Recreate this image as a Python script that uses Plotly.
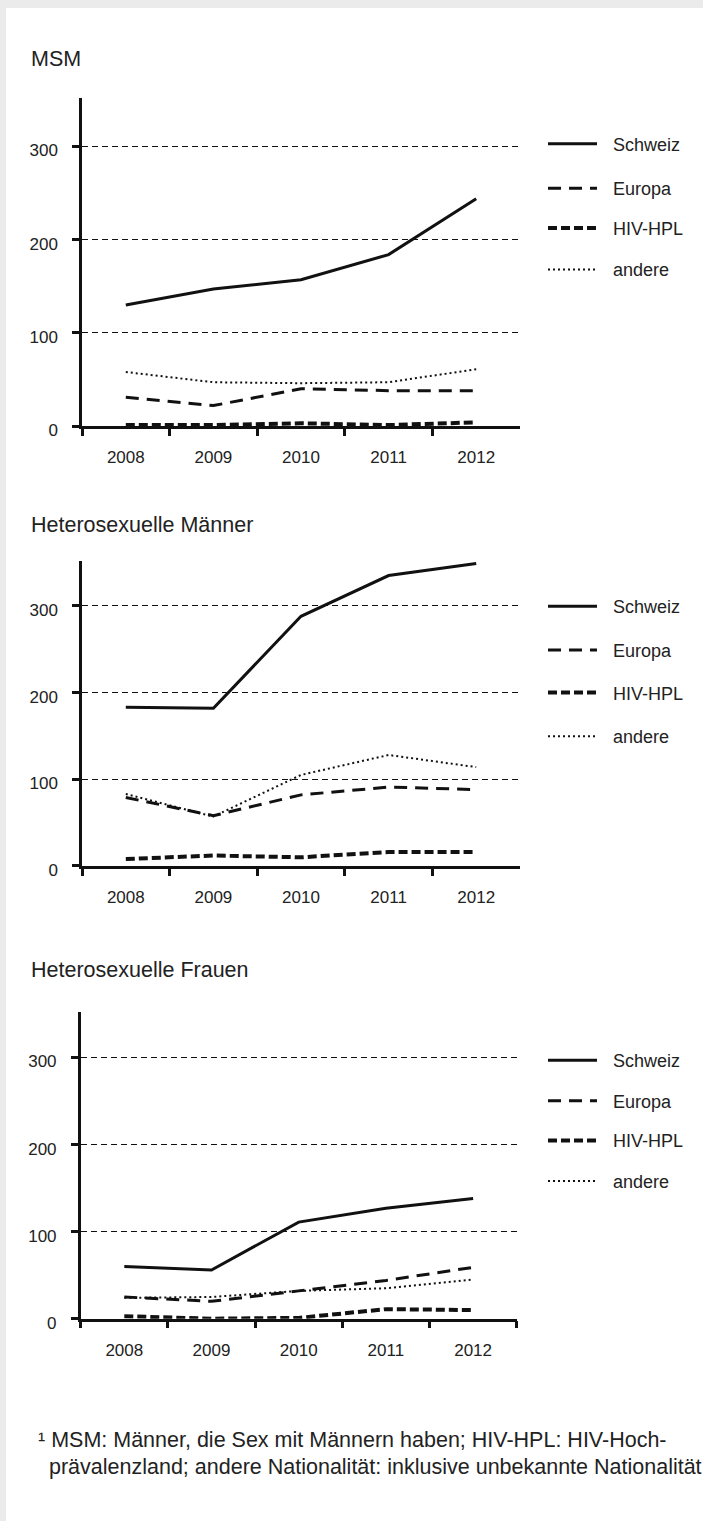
import plotly.graph_objects as go

# ---------------- data ----------------
years = ["2008", "2009", "2010", "2011", "2012"]
series_names = ["Schweiz", "Europa", "HIV-HPL", "andere"]

panel_titles = ["MSM", "Heterosexuelle Männer", "Heterosexuelle Frauen"]

msm_schweiz = [130, 147, 157, 184, 244]
msm_europa = [31, 22, 40, 38, 38]
msm_hivhpl = [1, 1, 3, 1, 4]
msm_andere = [58, 47, 46, 47, 61]

hm_schweiz = [183, 182, 288, 335, 349]
hm_europa = [79, 58, 82, 91, 88]
hm_hivhpl = [8, 12, 10, 16, 16]
hm_andere = [83, 57, 105, 128, 114]

hf_schweiz = [60, 56, 111, 127, 138]
hf_europa = [25, 20, 32, 44, 59]
hf_hivhpl = [3, 0, 1, 11, 10]
hf_andere = [24, 25, 32, 35, 45]

y_ticks = [0, 100, 200, 300]

footnote_line1 = "¹ MSM: Männer, die Sex mit Männern haben; HIV-HPL: HIV-Hoch-"
footnote_line2 = "prävalenzland; andere Nationalität: inklusive unbekannte Nationalität"

panels = [
    [msm_schweiz, msm_europa, msm_hivhpl, msm_andere],
    [hm_schweiz, hm_europa, hm_hivhpl, hm_andere],
    [hf_schweiz, hf_europa, hf_hivhpl, hf_andere],
]

# ---------------- layout geometry (pixels) ----------------
W, H = 703, 1521
FONT = "Liberation Sans, Arial, sans-serif"
TXT = "#222222"
INK = "#111111"

def fx(x):
    return x / W

def fy(y):
    return 1 - y / H

# (left, right, top, bottom) of each plot area in px
boxes = [(82, 520, 99, 430), (82, 520, 566, 874), (80.7, 516.7, 1021.6, 1331)]
title_y = [60, 530, 979]
legend_y = [[145, 190, 230, 272], [612, 656, 699, 743], [1070, 1111, 1151, 1192]]

styles = [
    dict(color=INK, width=3),
    dict(color=INK, width=3, dash="13px,8px"),
    dict(color=INK, width=4, dash="9px,4px"),
    dict(color=INK, width=2, dash="2px,3px"),
]

fig = go.Figure()
shapes = []
annotations = []

# white page panel on grey background
shapes.append(dict(type="rect", xref="paper", yref="paper", x0=fx(6), x1=1.02,
                   y0=-0.02, y1=fy(8), fillcolor="white", line=dict(width=0), layer="below"))

for p, data in enumerate(panels):
    sfx = "" if p == 0 else str(p + 1)
    xa, ya = "x" + sfx, "y" + sfx
    for name, vals, st in zip(series_names, data, styles):
        fig.add_trace(go.Scatter(x=years, y=vals, mode="lines", name=name,
                                 line=st, xaxis=xa, yaxis=ya, showlegend=False,
                                 hoverinfo="x+y+name"))
    l, r, t, b = boxes[p]
    fig.update_layout(**{
        "xaxis" + sfx: dict(domain=[fx(l), fx(r)], anchor=ya, type="category",
                            range=[-0.5, 4.5], showline=True, linecolor=INK, linewidth=2.5,
                            ticks="outside", ticklen=7, tickwidth=2.5, tickcolor=INK,
                            tickson="boundaries", showgrid=False, zeroline=False,
                            tickfont=dict(family=FONT, size=17, color=TXT),
                            ticklabelstandoff=14),
        "yaxis" + sfx: dict(domain=[fy(b), fy(t)], anchor=xa, range=[0, 352],
                            tickvals=y_ticks, showline=True, linecolor=INK, linewidth=2.5,
                            ticks="outside", ticklen=7, tickwidth=2.5, tickcolor=INK,
                            showgrid=True, gridcolor=INK, gridwidth=1.4, griddash="6px,4px",
                            zeroline=False,
                            tickfont=dict(family=FONT, size=17, color=TXT),
                            ticklabelstandoff=11, ticklabelshift=4),
    })
    # panel title
    annotations.append(dict(text=panel_titles[p], xref="paper", yref="paper",
                            x=fx(29), y=fy(title_y[p]), xanchor="left", yanchor="middle",
                            showarrow=False, font=dict(family=FONT, size=21.5, color=TXT)))
    # legend
    for name, st, ly in zip(series_names, styles, legend_y[p]):
        shapes.append(dict(type="line", xref="paper", yref="paper",
                           x0=fx(548), x1=fx(597), y0=fy(ly), y1=fy(ly), line=st))
        annotations.append(dict(text=name, xref="paper", yref="paper",
                                x=fx(611), y=fy(ly + 1), xanchor="left", yanchor="middle",
                                showarrow=False, font=dict(family=FONT, size=18, color=TXT)))

annotations.append(dict(text=footnote_line1, xref="paper", yref="paper",
                        x=fx(36), y=fy(1453), xanchor="left", yanchor="middle",
                        showarrow=False, font=dict(family=FONT, size=21.5, color=TXT)))
annotations.append(dict(text=footnote_line2, xref="paper", yref="paper",
                        x=fx(47), y=fy(1481), xanchor="left", yanchor="middle",
                        showarrow=False, font=dict(family=FONT, size=21.5, color=TXT)))

fig.update_layout(width=W, height=H, margin=dict(l=0, r=0, t=0, b=0, pad=0),
                  paper_bgcolor="#ebebeb", plot_bgcolor="rgba(0,0,0,0)",
                  showlegend=False, shapes=shapes, annotations=annotations,
                  font=dict(family=FONT, color=TXT))

fig.write_html("out.html", config={"displayModeBar": False},
               post_script="document.body.style.margin='0';document.body.style.background='#ebebeb';")
